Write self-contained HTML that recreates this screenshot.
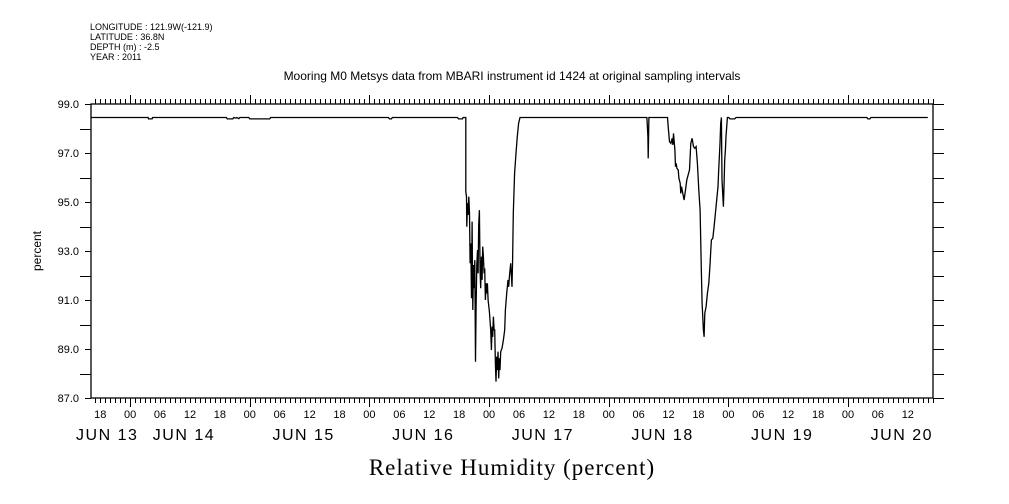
<!DOCTYPE html>
<html><head><meta charset="utf-8">
<style>
html,body{margin:0;padding:0;background:#fff;}
svg{display:block;font-family:"Liberation Sans",sans-serif;}
</style></head>
<body>
<svg id="chart" width="1009" height="504" viewBox="0 0 1009 504" xmlns="http://www.w3.org/2000/svg">
<g font-size="9" fill="#000">
<text x="90" y="30">LONGITUDE : 121.9W(-121.9)</text>
<text x="90" y="40">LATITUDE : 36.8N</text>
<text x="90" y="50">DEPTH (m) : -2.5</text>
<text x="90" y="60">YEAR : 2011</text>
</g>
<text x="512" y="80" font-size="12" text-anchor="middle">Mooring M0 Metsys data from MBARI instrument id 1424 at original sampling intervals</text>
<text x="512" y="475" font-size="23" text-anchor="middle" font-family="Liberation Serif, serif" letter-spacing="1">Relative Humidity (percent)</text>
<text x="0" y="0" font-size="12" text-anchor="middle" transform="translate(41,251) rotate(-90)">percent</text>
<g id="axes"></g>
<g id="series"></g>
</svg>
<script>
// hours since JUN 13 00:00
const times = [16.2,27.6,27.7,28.4,28.5,43.3,43.5,44.6,44.8,45.2,45.4,45.8,46.0,47.8,48.0,52.0,52.2,75.8,76.0,76.4,76.6,
86.0,89.67,89.87,90.67,90.8,91.33,91.33,91.47,91.53,91.67,91.8,91.93,92.07,92.2,92.33,92.47,92.6,92.73,92.87,93.0,93.13,93.27,93.4,93.53,93.67,93.8,93.93,94.07,94.2,94.33,94.47,94.6,94.73,94.87,95.0,95.13,95.27,95.4,95.53,95.67,95.8,96.07,96.33,96.47,96.6,96.73,96.87,97.0,97.13,97.27,97.4,97.53,97.67,97.8,97.93,98.07,98.2,98.33,98.6,98.87,99.13,99.27,99.53,99.8,99.93,100.07,100.33,100.6,100.73,100.87,101.13,101.4,101.67,101.93,102.2,
127.67,127.87,127.93,128.07,131.8,131.93,132.2,132.47,132.73,132.87,133.0,133.27,133.4,133.53,133.67,133.93,134.07,134.33,134.47,134.6,134.87,135.13,135.4,135.67,136.2,136.47,136.73,137.0,137.27,137.53,137.8,138.07,138.33,138.6,138.73,139.0,139.13,139.27,139.53,139.8,140.07,140.33,140.47,140.6,140.87,141.13,141.4,141.67,141.93,142.07,142.33,142.47,142.6,142.73,143.0,143.13,143.27,143.4,143.53,143.8,144.07,144.33,145.27,145.53,171.8,172.0,172.4,172.6,184.0];
const values = [98.45,98.45,98.39,98.39,98.45,98.45,98.39,98.39,98.45,98.42,98.45,98.40,98.45,98.45,98.39,98.39,98.45,98.45,98.39,98.39,98.45,
98.45,98.45,98.39,98.39,98.45,98.45,95.42,95.22,93.99,94.95,94.47,95.22,94.54,92.50,93.31,91.07,94.20,90.59,92.43,91.48,92.63,88.48,90.73,92.43,93.04,92.09,94.06,94.67,92.16,91.48,92.77,91.82,93.18,92.77,92.09,92.29,91.00,91.68,91.27,91.68,91.00,90.52,89.78,88.96,89.91,89.50,90.32,89.78,89.78,88.41,87.67,88.69,88.14,88.89,87.80,88.62,88.14,88.89,89.03,89.37,89.78,90.59,91.27,91.82,91.54,91.95,92.50,91.54,92.63,94.54,96.17,96.99,97.67,98.21,98.45,
98.45,97.67,96.78,98.45,98.45,98.07,97.46,97.39,97.60,97.33,97.80,97.12,96.44,96.58,96.37,96.31,95.97,95.76,95.35,95.63,95.35,95.08,95.49,95.90,96.31,97.39,97.60,97.26,97.19,97.26,96.58,95.49,94.67,92.09,90.86,89.78,89.50,90.46,90.73,91.27,91.68,92.50,93.04,93.45,93.52,93.99,94.54,95.08,95.63,96.31,97.39,98.21,98.45,95.90,94.81,95.63,96.71,97.12,97.67,98.45,98.45,98.39,98.39,98.45,98.45,98.39,98.39,98.45,98.45];
const yTicks = [87.0,89.0,91.0,93.0,95.0,97.0,99.0];
const hourLabels = ["18","00","06","12"];
const dayLabels = ["JUN 13","JUN 14","JUN 15","JUN 16","JUN 17","JUN 18","JUN 19","JUN 20"];

const X0=91,X1=933,Y0=104,Y1=398,H0=16.15,H1=185.05,V0=87,V1=99;
function xs(h){return X0+(h-H0)/(H1-H0)*(X1-X0);}
function ys(v){return Y1-(v-V0)/(V1-V0)*(Y1-Y0);}
const NS="http://www.w3.org/2000/svg";
const axes=document.getElementById('axes'), series=document.getElementById('series');
function mk(tag,attrs,parent){const e=document.createElementNS(NS,tag);for(const k in attrs)e.setAttribute(k,attrs[k]);parent.appendChild(e);return e;}

const frame=mk('rect',{x:X0,y:Y0,width:X1-X0,height:Y1-Y0,fill:'none',stroke:'#000','stroke-width':1.3},axes);



let d='';
for(let h=17;h<=185;h++){
  const x=Math.round(xs(h))+0.5; const major=(h%24===0)?9:5;
  d+=`M${x} ${Y0}V${Y0-major}M${x} ${Y1}V${Y1+major}`;
}
for(let v=V0;v<=V1;v+=1){
  const y=Math.round(ys(v))+0.5; const lab=(v%2===1);
  d+=`M${X1} ${y}H${X1+11}`;
  if(lab) d+=`M${X0} ${y}H${X0-6}`; else d+=`M${X0} ${y}H${X0-11}`;
}
const ticks=mk('path',{d:d,stroke:'#000','stroke-width':1,fill:'none'},axes);



yTicks.forEach(v=>{
  const t=mk('text',{x:X0-12,y:ys(v)+4,'font-size':11,'text-anchor':'end'},axes);
  
  
  t.textContent=v.toFixed(1);
});
for(let h=18,i=0;h<=180;h+=6,i++){
  const t=mk('text',{x:xs(h),y:418,'font-size':11,'text-anchor':'middle'},axes);
  
  
  t.textContent=hourLabels[i%4];
}
dayLabels.forEach((lab,i)=>{
  const hh=(i===0)?19.4:(i*24+10.8);
  const t=mk('text',{x:xs(hh),y:440,'font-size':16,'text-anchor':'middle','letter-spacing':'1.5'},axes);
  
  
  t.textContent=lab;
});

let pd='';
times.forEach((h,i)=>{pd+=(i?'L':'M')+xs(h).toFixed(1)+' '+ys(values[i]).toFixed(1);});
const line=mk('path',{d:pd,fill:'none',stroke:'#000','stroke-width':1.3},series);


</script>
</body></html>
